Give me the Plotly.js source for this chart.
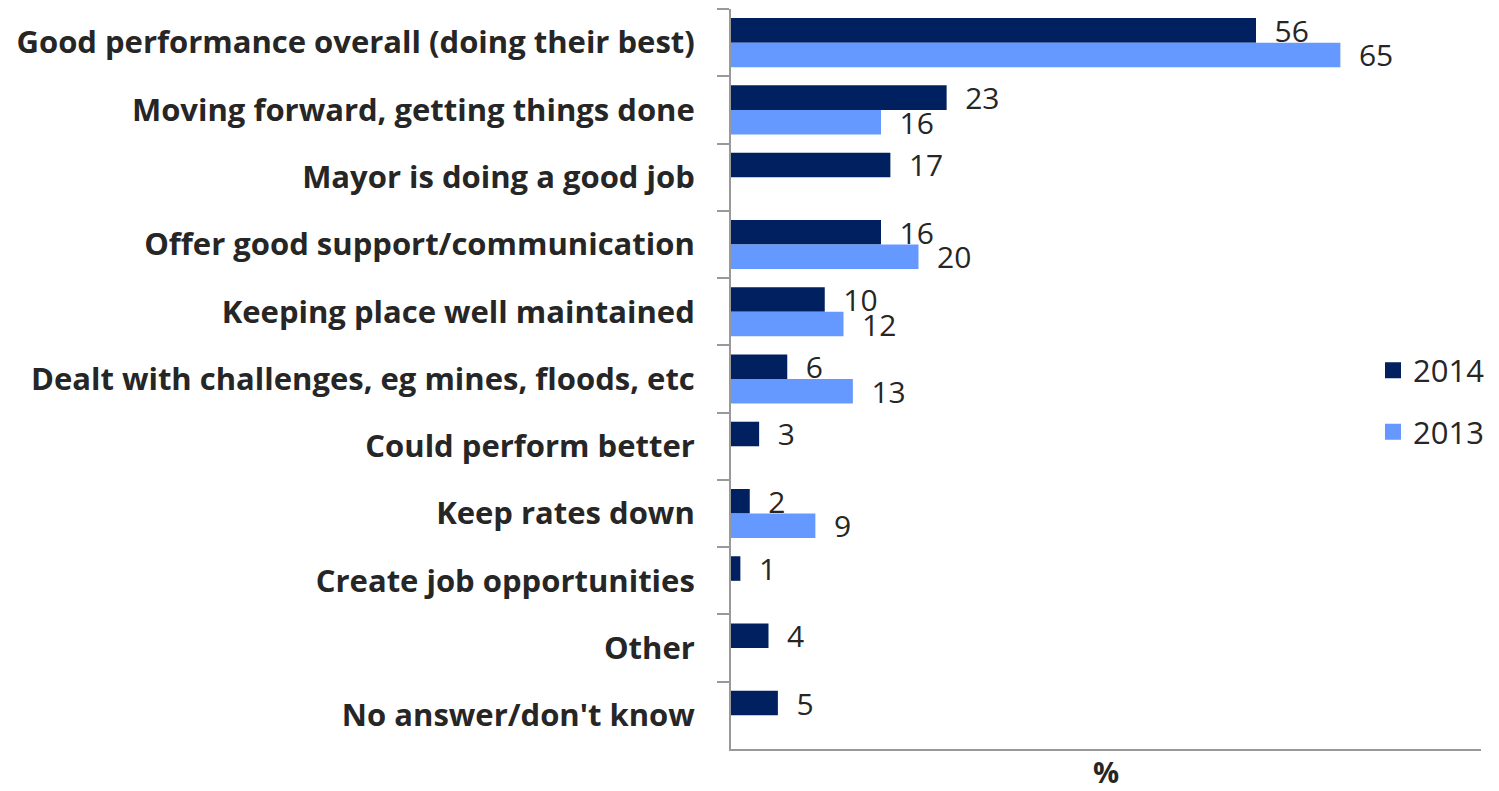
<!DOCTYPE html>
<html>
<head>
<meta charset="utf-8">
<script src="https://cdn.plot.ly/plotly-3.0.1.min.js"></script>
<style>
  html, body { margin: 0; padding: 0; background: #ffffff; }
  #chart { width: 1499px; height: 791px; }
</style>
</head>
<body>
<div id="chart"></div>
<script>
const categories = [
  "Good performance overall (doing their best)",
  "Moving forward, getting things done",
  "Mayor is doing a good job",
  "Offer good support/communication",
  "Keeping place well maintained",
  "Dealt with challenges, eg mines, floods, etc",
  "Could perform better",
  "Keep rates down",
  "Create job opportunities",
  "Other",
  "No answer/don't know"
];
const values2014 = [56, 23, 17, 16, 10, 6, 3, 2, 1, 4, 5];
const values2013 = [65, 16, null, 20, 12, 13, null, 9, null, null, null];
const seriesNames = ["2014", "2013"];
const seriesColors = ["#002060", "#6699FF"];

const FONT = "'Open Sans', sans-serif";
const TEXT_COLOR = "#262626";
const labelPad = "\u00a0\u00a0";

function barTrace(name, values, color) {
  return {
    type: "bar",
    orientation: "h",
    name: name,
    x: values,
    y: categories,
    marker: { color: color },
    texttemplate: labelPad + "%{x}",
    textposition: "outside",
    constraintext: "none",
    cliponaxis: false,
    textfont: { family: FONT, size: 30, color: TEXT_COLOR },
    showlegend: false,
    hoverinfo: "x+y+name"
  };
}

function legendTrace(name, color, group) {
  return {
    type: "scatter",
    mode: "markers",
    name: name,
    x: [null],
    y: [null],
    marker: { symbol: "square", size: 21, color: color },
    legendgroup: group,
    showlegend: true,
    hoverinfo: "skip"
  };
}

const data = [
  barTrace(seriesNames[0], values2014, seriesColors[0]),
  barTrace(seriesNames[1], values2013, seriesColors[1]),
  legendTrace(seriesNames[0], seriesColors[0], "g1"),
  legendTrace(seriesNames[1], seriesColors[1], "g2")
];

const layout = {
  width: 1499,
  height: 791,
  margin: { l: 731, r: 14, t: 9, b: 42, pad: 0 },
  paper_bgcolor: "#ffffff",
  plot_bgcolor: "#ffffff",
  font: { family: FONT, color: TEXT_COLOR },
  barmode: "group",
  bargap: 0.27,
  bargroupgap: 0,
  showlegend: true,
  legend: {
    x: 0.856, xanchor: "left",
    y: 0.47, yanchor: "middle",
    font: { family: FONT, size: 31, color: TEXT_COLOR },
    traceorder: "grouped",
    tracegroupgap: 18,
    bgcolor: "rgba(0,0,0,0)",
    borderwidth: 0
  },
  xaxis: {
    range: [0, 80],
    showgrid: false,
    zeroline: false,
    showline: true,
    linecolor: "#999999",
    linewidth: 2,
    ticks: "",
    showticklabels: false,
    fixedrange: true,
    title: { text: "<b>%</b>", font: { family: FONT, size: 29, color: TEXT_COLOR }, standoff: 21 }
  },
  yaxis: {
    type: "category",
    autorange: "reversed",
    showgrid: false,
    zeroline: false,
    showline: true,
    linecolor: "#999999",
    linewidth: 2,
    ticks: "outside",
    tickson: "boundaries",
    ticklen: 12,
    tickwidth: 2,
    tickcolor: "#999999",
    ticklabelstandoff: 28,
    tickfont: { family: FONT, size: 31, color: TEXT_COLOR, weight: "bold" },
    fixedrange: true
  }
};

Plotly.newPlot("chart", data, layout, { displayModeBar: false, responsive: false });
</script>
</body>
</html>
